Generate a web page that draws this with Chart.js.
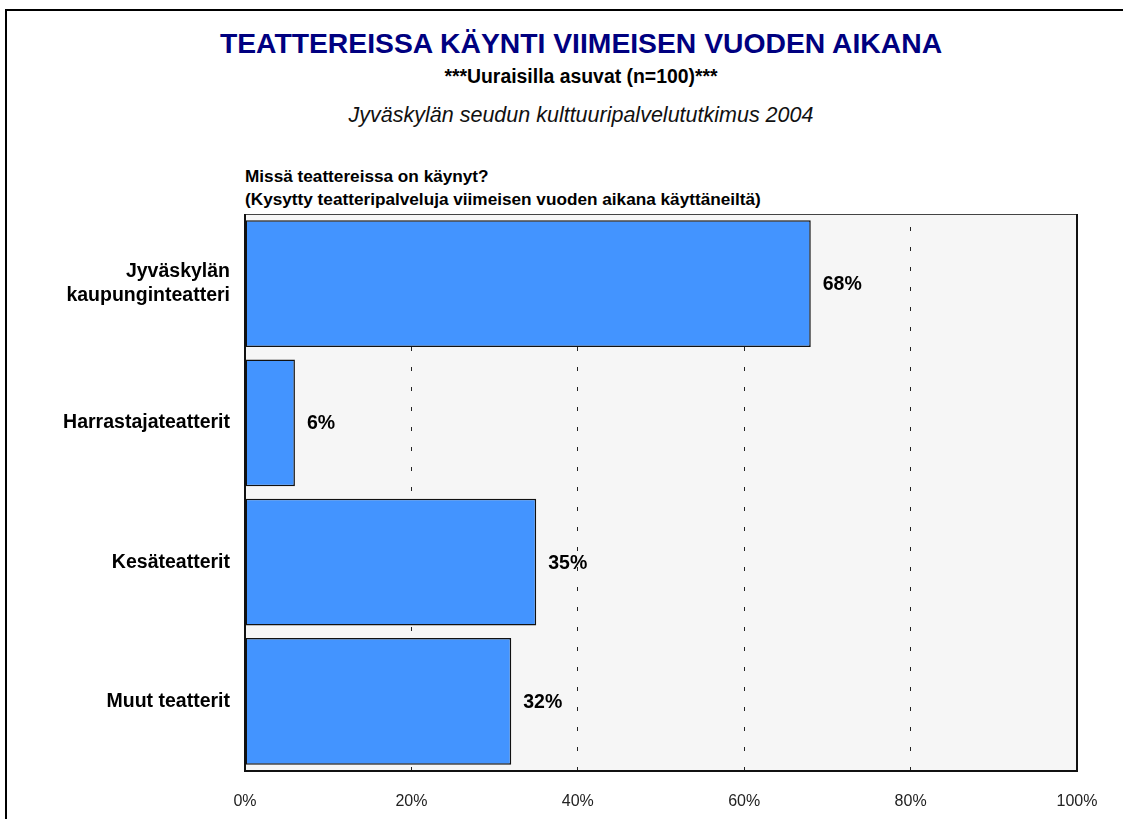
<!DOCTYPE html>
<html>
<head>
<meta charset="utf-8">
<script src="https://cdn.jsdelivr.net/npm/chart.js@4"></script>
<style>
  body { margin: 0; width: 1123px; height: 819px; overflow: hidden; background: #fff; font-family: "Liberation Sans", Arial, sans-serif; position: relative; }
  .frame { position: absolute; left: 5px; top: 9px; width: 2000px; height: 2000px; border-left: 2px solid #000; border-top: 2px solid #000; }
  .txt { position: absolute; white-space: nowrap; line-height: 1; }
  .center { left: 81px; width: 1000px; text-align: center; }
  #wrap { position: absolute; left: 0; top: 0; width: 1123px; height: 819px; }
</style>
</head>
<body>
<div class="frame"></div>
<div class="txt center" style="top:29px;font-size:28.3px;font-weight:bold;color:#000080;">TEATTEREISSA KÄYNTI VIIMEISEN VUODEN AIKANA</div>
<div class="txt center" style="top:67px;font-size:19.4px;font-weight:bold;">***Uuraisilla asuvat (n=100)***</div>
<div class="txt center" style="top:105px;font-size:21.5px;font-style:italic;color:#111;">Jyväskylän seudun kulttuuripalvelututkimus 2004</div>
<div class="txt" style="left:245px;top:165px;font-size:17.2px;font-weight:bold;line-height:23px;">Missä teattereissa on käynyt?<br>(Kysytty teatteripalveluja viimeisen vuoden aikana käyttäneiltä)</div>
<div id="wrap"><canvas id="myChart" width="1123" height="819"></canvas></div>
<script>
var categories = [["Jyväskylän", "kaupunginteatteri"], "Harrastajateatterit", "Kesäteatterit", "Muut teatterit"];
var values = [68, 6, 35, 32];
var tickLabels = ["0%", "20%", "40%", "60%", "80%", "100%"];

// plot background and frame
var frame = {
  id: 'frame',
  beforeDraw: function (chart) {
    var a = chart.chartArea, c = chart.ctx;
    c.save();
    c.fillStyle = '#f6f6f6';
    c.fillRect(a.left, a.top, a.right - a.left, a.bottom - a.top);
    c.restore();
  },
  afterDraw: function (chart) {
    var a = chart.chartArea, c = chart.ctx;
    c.save();
    c.strokeStyle = '#444';
    c.lineWidth = 1;
    c.beginPath();
    c.moveTo(a.left, a.top + 0.5);
    c.lineTo(a.right, a.top + 0.5);
    c.stroke();
    c.strokeStyle = '#111';
    c.lineWidth = 2;
    c.beginPath();
    c.moveTo(a.left, a.top);
    c.lineTo(a.left, a.bottom);
    c.lineTo(a.right, a.bottom);
    c.lineTo(a.right, a.top);
    c.stroke();
    c.restore();
  }
};

// value labels next to bars
var valueLabels = {
  id: 'valueLabels',
  afterDatasetsDraw: function (chart) {
    var c = chart.ctx;
    var meta = chart.getDatasetMeta(0);
    c.save();
    c.font = 'bold 19.5px "Liberation Sans", Arial, sans-serif';
    c.fillStyle = '#000';
    c.textBaseline = 'middle';
    meta.data.forEach(function (bar, i) {
      c.fillText(values[i] + '%', bar.x + 12, bar.y + 1);
    });
    c.restore();
  }
};

var ctx = document.getElementById("myChart").getContext('2d');
var myChart = new Chart(ctx, {
  type: 'bar',
  data: {
    labels: categories,
    datasets: [{
      data: values,
      backgroundColor: "#4394ff",
      borderColor: "#111",
      borderWidth: 1.5,
      borderSkipped: false,
      barPercentage: 0.91,
      categoryPercentage: 1
    }]
  },
  plugins: [frame, valueLabels],
  options: {
    indexAxis: 'y',
    responsive: false,
    animation: false,
    layout: { padding: { top: 214, right: 46, left: 0, bottom: 0 } },
    plugins: { legend: { display: false }, tooltip: { enabled: false } },
    scales: {
      x: {
        min: 0,
        max: 100,
        afterFit: function (s) { s.height = 48; },
        afterBuildTicks: function (s) { s.ticks = [0, 20, 40, 60, 80, 100].map(function (v) { return { value: v }; }); },
        grid: {
          drawTicks: false,
          color: function (c) { return (c.tick && (c.tick.value === 0 || c.tick.value === 100)) ? 'rgba(0,0,0,0)' : '#222'; },
          lineWidth: 1
        },
        border: { display: false, dash: [4, 16], dashOffset: 7 },
        ticks: {
          padding: 21,
          color: '#222',
          font: { size: 16, family: '"Liberation Sans", Arial, sans-serif' },
          callback: function (v, i) { return tickLabels[i]; }
        }
      },
      y: {
        afterFit: function (s) { s.width = 245; },
        border: { display: false },
        grid: { display: false, drawTicks: false },
        ticks: {
          padding: 15,
          color: '#000',
          font: { size: 19.5, weight: 'bold', family: '"Liberation Sans", Arial, sans-serif', lineHeight: 1.23 }
        }
      }
    }
  }
});
</script>
</body>
</html>
